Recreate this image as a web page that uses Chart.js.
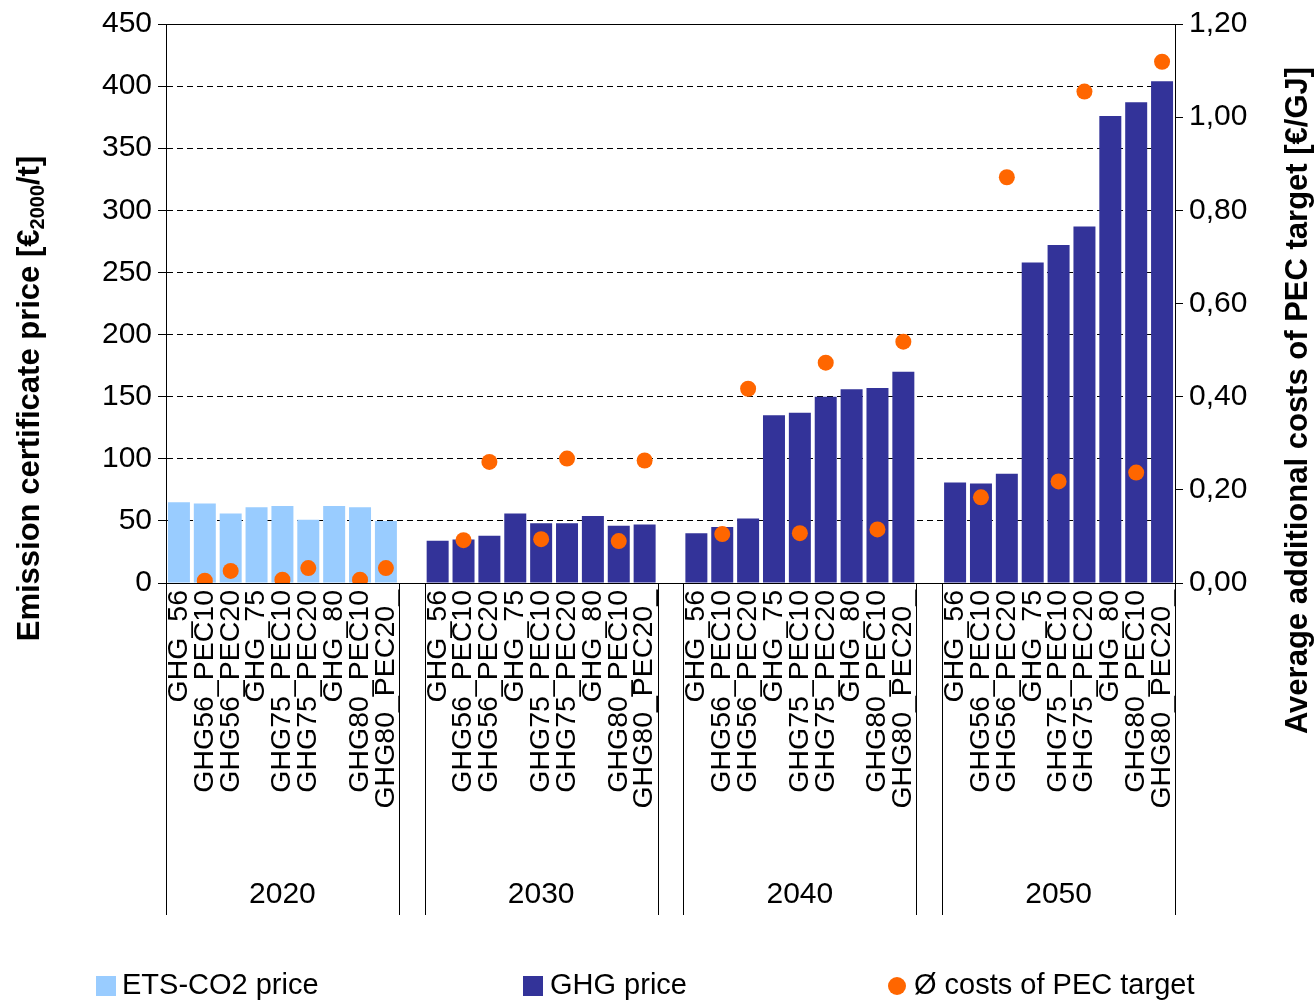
<!DOCTYPE html>
<html><head><meta charset="utf-8">
<script src="https://cdn.jsdelivr.net/npm/chart.js@4"></script>
<style>body{margin:0;background:#fff}#w{width:1315px;height:1002px}</style>
</head><body><div id="w"><canvas id="c"></canvas></div>
<script>
const scenarios=["GHG_56","GHG56_PEC10","GHG56_PEC20","GHG_75","GHG75_PEC10","GHG75_PEC20","GHG_80","GHG80_PEC10","GHG80_PEC20_"];
const years=["2020","2030","2040","2050"];
const ets2020=[65,64,56,61,62,51,62,61,50];
const ghg2030=[34,35,38,56,48,48,54,46,47];
const ghg2040=[40,45,52,135,137,150,156,157,170];
const ghg2050=[81,80,88,258,272,287,376,387,404];
const pec2020=[null,0.005,0.026,null,0.007,0.032,null,0.007,0.032];
const pec2030=[null,0.092,0.26,null,0.094,0.267,null,0.09,0.263];
const pec2040=[null,0.105,0.417,null,0.107,0.473,null,0.115,0.518];
const pec2050=[null,0.184,0.871,null,0.218,1.055,null,0.237,1.119];
const leftTicks=[0,50,100,150,200,250,300,350,400,450];

const labels=[],etsData=[],ghgData=[],pecData=[];
const ghgGroups=[null,ghg2030,ghg2040,ghg2050],pecGroups=[pec2020,pec2030,pec2040,pec2050];
years.forEach((y,g)=>{
  if(g>0){labels.push("");etsData.push(null);ghgData.push(null);pecData.push(null);}
  scenarios.forEach((s,i)=>{
    labels.push(s);
    etsData.push(g===0?ets2020[i]:null);
    ghgData.push(g>0?ghgGroups[g][i]:null);
    pecData.push(pecGroups[g][i]);
  });
});
const F="'Liberation Sans', Arial, sans-serif";
const plug={id:'p',afterDraw(ch){
  const c=ch.ctx,x=ch.scales.x,a=ch.chartArea;
  c.save();
  c.fillStyle='#000';c.font='28.5px '+F;c.textAlign='right';c.textBaseline='middle';
  labels.forEach((l,i)=>{if(!l)return;const px=x.getPixelForValue(i);
    c.save();c.translate(px,590);c.rotate(-Math.PI/2);c.fillText(l,0,0);c.restore();});
  c.strokeStyle='#000';c.lineWidth=1;
  const w=x.getPixelForValue(1)-x.getPixelForValue(0);
  years.forEach((y,g)=>{
    const s=x.getPixelForValue(g*10)-w/2,e=x.getPixelForValue(g*10+8)+w/2;
    [s,e].forEach(px=>{c.beginPath();c.moveTo(Math.round(px)+0.5,a.bottom);c.lineTo(Math.round(px)+0.5,915);c.stroke();});
    c.textAlign='center';c.textBaseline='middle';c.font='30px '+F;
    c.fillText(y,(s+e)/2,895);
  });
  c.save();c.translate(30,(a.top+a.bottom)/2+95);c.rotate(-Math.PI/2);
  c.font='bold 31px '+F;c.textBaseline='middle';c.textAlign='left';
  const p1='Emission certificate price [€',p3='/t]';
  c.font='bold 31px '+F;const w1=c.measureText(p1).width,w3=c.measureText(p3).width;
  c.font='bold 20px '+F;const w2=c.measureText('2000').width;
  let tx=-(w1+w2+w3)/2;
  c.font='bold 31px '+F;c.fillText(p1,tx,0);tx+=w1;
  c.font='bold 20px '+F;c.fillText('2000',tx,8);tx+=w2;
  c.font='bold 31px '+F;c.fillText(p3,tx,0);c.restore();
  c.save();c.translate(1298,(a.top+a.bottom)/2+97);c.rotate(-Math.PI/2);
  c.font='bold 31px '+F;c.textAlign='center';c.textBaseline='middle';
  c.fillText('Average additional costs of PEC target [€/GJ]',0,0);c.restore();
  c.font='29px '+F;c.textAlign='left';c.textBaseline='middle';
  c.fillStyle='#99ccff';c.fillRect(96,976,20,20);c.fillStyle='#000';c.fillText('ETS-CO2 price',122,986);
  c.fillStyle='#333399';c.fillRect(523,976,20,20);c.fillStyle='#000';c.fillText('GHG price',550,986);
  c.fillStyle='#ff6600';c.beginPath();c.arc(897,986,9,0,Math.PI*2);c.fill();c.fillStyle='#000';c.fillText('Ø costs of PEC target',914,986);
  c.strokeStyle='#000';c.strokeRect(a.left+0.5,a.top+0.5,a.right-a.left,a.bottom-a.top);
  c.restore();
}};
new Chart(document.getElementById('c'),{
  data:{labels,datasets:[
    {type:'line',data:pecData,yAxisID:'y1',showLine:false,pointRadius:8,pointHoverRadius:8,backgroundColor:'#ff6600',borderColor:'#ff6600',pointBorderWidth:0,order:0},
    {type:'bar',data:etsData,backgroundColor:'#99ccff',yAxisID:'y',barPercentage:1,categoryPercentage:0.85,order:1},
    {type:'bar',data:ghgData,backgroundColor:'#333399',yAxisID:'y',barPercentage:1,categoryPercentage:0.85,order:1}
  ]},
  options:{responsive:true,maintainAspectRatio:false,animation:false,
    layout:{padding:{top:8,left:0,right:0,bottom:0}},
    plugins:{legend:{display:false},tooltip:{enabled:false}},
    scales:{
      x:{stacked:true,ticks:{display:false},grid:{display:false},border:{display:false},afterFit(s){s.height=419;}},
      y:{stacked:true,min:0,max:450,afterBuildTicks(s){s.ticks=leftTicks.map(v=>({value:v}));},
        ticks:{color:'#000',font:{size:30,family:F},padding:6},
        grid:{color:'#000',tickLength:8,lineWidth:1},border:{display:true,color:'#000',dash:[6,4]},
        afterFit(s){s.width=166;}},
      y1:{position:'right',min:0,max:1.2,ticks:{stepSize:0.2,color:'#000',font:{size:30,family:F},padding:6,callback:v=>v.toFixed(2).replace('.',',')},
        grid:{drawOnChartArea:false,color:'#000',tickLength:8},border:{color:'#000'},afterFit(s){s.width=140;}}
    }},
  plugins:[plug]
});
</script></body></html>
